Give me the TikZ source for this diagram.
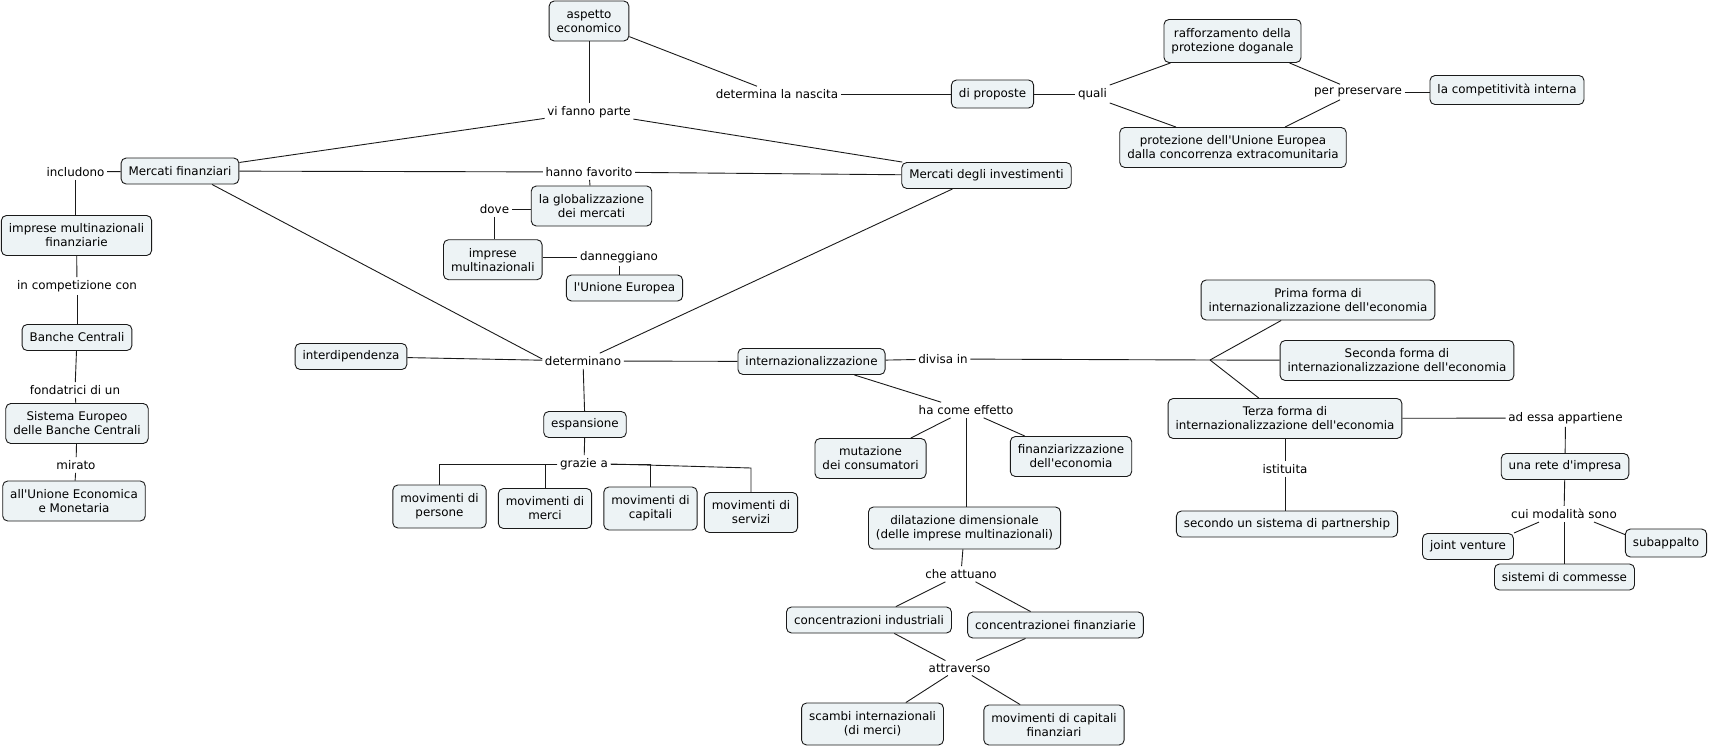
\documentclass[tikz,border=0pt]{standalone}
\usepackage{fontspec}
\setmainfont{DejaVu Sans}
\setmonofont{DejaVu Sans}
\usetikzlibrary{calc}
\definecolor{boxfill}{HTML}{EDF3F5}
\definecolor{ln}{HTML}{1A1A1A}
\begin{document}
\begin{tikzpicture}[x=1pt,y=-1pt,
  every node/.style={font=\ttfamily\fontsize{11.9}{14}\selectfont, align=center},
  concept/.style={draw=ln, line width=0.9pt, fill=boxfill, rounded corners=5pt, inner xsep=7.5pt, inner ysep=2pt, minimum height=26pt},
  concepttwo/.style={concept, minimum height=40pt},
  phrase/.style={inner xsep=2.5pt, inner ysep=3pt},
  conn/.style={draw=ln, line width=0.9pt}]
\useasboundingbox (0,0) rectangle (1709,747);
% concepts
\node[concepttwo] (asp) at (589,21) {aspetto\\economico};
\node[concept] (mf) at (180,171) {Mercati finanziari};
\node[concepttwo] (imf) at (76.5,235.5) {imprese multinazionali\\finanziarie};
\node[concept] (bc) at (77,337.5) {Banche Centrali};
\node[concepttwo] (seb) at (77,423.5) {Sistema Europeo\\delle Banche Centrali};
\node[concepttwo] (uem) at (74,501) {all'Unione Economica\\e Monetaria};
\node[concepttwo] (glob) at (591.5,206) {la globalizzazione\\dei mercati};
\node[concepttwo] (imp) at (492.8,259.7) {imprese\\multinazionali};
\node[concept] (ue) at (624.5,288) {l'Unione Europea};
\node[concept, minimum height=28pt] (dp) at (992.5,94) {di proposte};
\node[concepttwo, minimum height=43pt] (raf) at (1232.5,41) {rafforzamento della\\protezione doganale};
\node[concept, minimum height=29pt] (ci) at (1507,90) {la competitività interna};
\node[concepttwo] (prot) at (1233,147.5) {protezione dell'Unione Europea\\dalla concorrenza extracomunitaria};
\node[concept] (mi) at (986.5,175.5) {Mercati degli investimenti};
\node[concept] (int) at (351,356.5) {interdipendenza};
\node[concept] (esp) at (585,424.5) {espansione};
\node[concepttwo, minimum height=43pt] (mp) at (439.5,506.5) {movimenti di\\persone};
\node[concepttwo] (mm) at (545,508.5) {movimenti di\\merci};
\node[concepttwo, minimum height=43pt] (mc) at (650.5,508.5) {movimenti di\\capitali};
\node[concepttwo] (ms) at (751,512.5) {movimenti di\\servizi};
\node[concept] (inz) at (811.5,361.5) {internazionalizzazione};
\node[concepttwo] (f1) at (1318,300) {Prima forma di\\internazionalizzazione dell'economia};
\node[concepttwo] (f2) at (1397,360.5) {Seconda forma di\\internazionalizzazione dell'economia};
\node[concepttwo] (f3) at (1285,418.5) {Terza forma di\\internazionalizzazione dell'economia};
\node[concepttwo] (mut) at (870.5,458.5) {mutazione\\dei consumatori};
\node[concepttwo] (fin) at (1071,456.5) {finanziarizzazione\\dell'economia};
\node[concepttwo, minimum height=42pt] (dil) at (964.5,528) {dilatazione dimensionale\\(delle imprese multinazionali)};
\node[concept] (ci1) at (869,620) {concentrazioni industriali};
\node[concept] (cf) at (1055.5,625) {concentrazionei finanziarie};
\node[concepttwo, minimum height=42pt] (sc) at (872.5,724) {scambi internazionali\\(di merci)};
\node[concepttwo] (mcf) at (1054,725) {movimenti di capitali\\finanziari};
\node[concept] (rete) at (1565,466.5) {una rete d'impresa};
\node[concept] (part) at (1287,524) {secondo un sistema di partnership};
\node[concept] (jv) at (1468,546.5) {joint venture};
\node[concept, minimum height=28pt] (sub) at (1666,543) {subappalto};
\node[concept] (sis) at (1564.5,577) {sistemi di commesse};
% linking phrases
\node[phrase] (vfp) at (589,112) {vi fanno parte};
\node[phrase] (incl) at (75.5,172) {includono};
\node[phrase] (comp) at (77,286) {in competizione con};
\node[phrase] (fond) at (75,390) {fondatrici di un};
\node[phrase] (mir) at (76,465) {mirato};
\node[phrase] (hf) at (589,172) {hanno favorito};
\node[phrase] (dove) at (494.5,209) {dove};
\node[phrase] (dann) at (619,257) {danneggiano};
\node[phrase] (dln) at (777,94) {determina la nascita};
\node[phrase] (quali) at (1092.5,94) {quali};
\node[phrase] (pp) at (1358,92) {per preservare};
\node[phrase] (det) at (583,361) {determinano};
\node[phrase] (gra) at (584,464) {grazie a};
\node[phrase] (div) at (943,359) {divisa in};
\node[phrase] (hce) at (966,410) {ha come effetto};
\node[phrase] (che) at (961,574) {che attuano};
\node[phrase] (attr) at (959.5,668) {attraverso};
\node[phrase] (app) at (1565.5,418) {ad essa appartiene};
\node[phrase] (ist) at (1285,468.7) {istituita};
\node[phrase] (cui) at (1564,514) {cui modalità sono};
\coordinate (br) at (1210,360);
\coordinate (g4) at (751,468);
% connectors
\draw[conn] (asp) -- (vfp);
\draw[conn] (asp) -- (dln);
\draw[conn] (mf) -- (vfp);
\draw[conn] (vfp) -- (mi);
\draw[conn] (incl) -- (mf);
\draw[conn] (incl) -- (incl |- imf.north);
\draw[conn] (imf) -- (comp);
\draw[conn] (comp) -- (bc);
\draw[conn] (bc) -- (fond);
\draw[conn] (fond) -- (seb);
\draw[conn] (seb) -- (mir);
\draw[conn] (mir) -- (uem);
\draw[conn] (mf) -- (hf);
\draw[conn] (hf) -- (mi);
\draw[conn] (hf) -- (glob);
\draw[conn] (glob.west |- dove) -- (dove);
\draw[conn] (dove) -- (dove |- imp.north);
\draw[conn] (imp.east |- dann) -- (dann);
\draw[conn] (dann) -- (dann |- ue.north);
\draw[conn] (dln) -- (dp);
\draw[conn] (dp) -- (quali);
\draw[conn] (quali.north east) -- ([xshift=-62pt]raf.south);
\draw[conn] (quali.south east) -- ([xshift=-57pt]prot.north);
\draw[conn] ([xshift=57pt]raf.south) -- ([xshift=-18pt]pp.north);
\draw[conn] ([xshift=52pt]prot.north) -- ([xshift=-18pt]pp.south);
\draw[conn] (pp) -- (ci.west |- pp);
\draw[conn] ([xshift=32pt]mf.south) -- ([yshift=2pt]det.west);
\draw[conn] ([xshift=-34pt]mi.south) -- (det);
\draw[conn] (int) -- (det);
\draw[conn] (det) -- (inz);
\draw[conn] (det) -- (esp);
\draw[conn] (esp) -- (gra);
\draw[conn] (gra.west) -| (mp.north);
\draw[conn] (gra.west) -| (mm.north);
\draw[conn] (gra.east) -| (mc.north);
\draw[conn] (gra.east) -- (g4) -- (ms.north);
\draw[conn] (inz) -- (div);
\draw[conn] (div) -- (br) -- (f1);
\draw[conn] (br) -- (f2);
\draw[conn] (br) -- (f3);
\draw[conn] (inz) -- (hce);
\draw[conn] (hce) -- (mut);
\draw[conn] (hce) -- (fin);
\draw[conn] (hce) -- (hce |- dil.north);
\draw[conn] (dil) -- (che);
\draw[conn] (che) -- (ci1);
\draw[conn] (che) -- (cf);
\draw[conn] (ci1) -- (attr);
\draw[conn] (cf) -- (attr);
\draw[conn] (attr) -- (sc);
\draw[conn] (attr) -- (mcf);
\draw[conn] (f3) -- (app);
\draw[conn] (app) -- (rete);
\draw[conn] (f3) -- (f3 |- ist.north);
\draw[conn] (ist) -- (ist |- part.north);
\draw[conn] (rete) -- (cui);
\draw[conn] ([xshift=-25pt]cui.south) -- (jv.north east);
\draw[conn] ([xshift=30pt]cui.south) -- ([yshift=-6pt]sub.north west);
\draw[conn] (cui) -- (cui |- sis.north);
\end{tikzpicture}
\end{document}
